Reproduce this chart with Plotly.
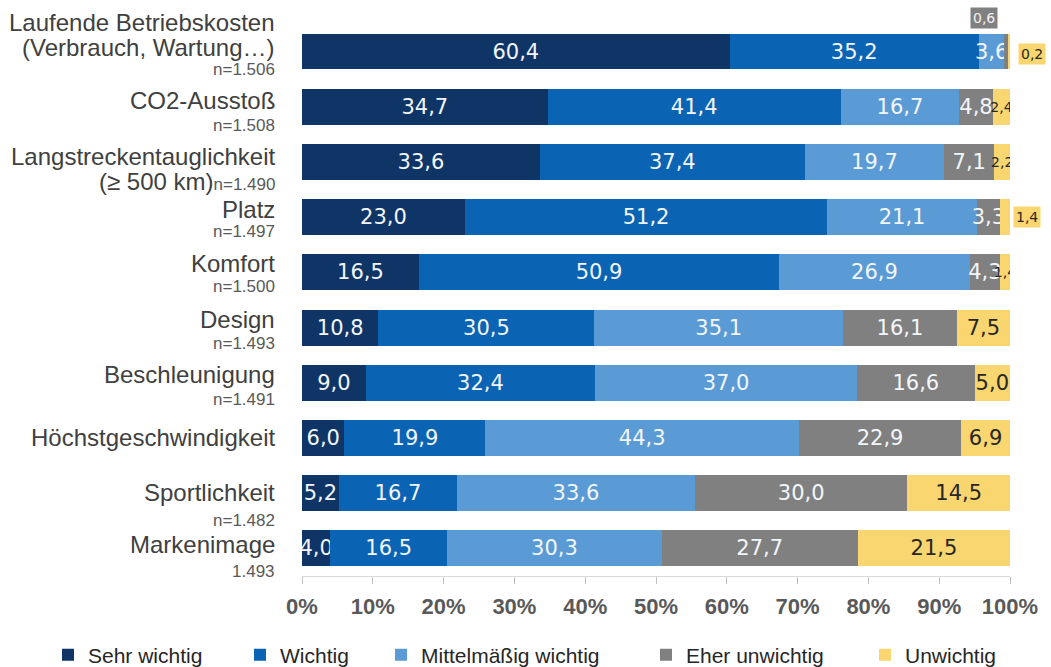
import plotly.graph_objects as go

# ---------------- data ----------------
categories = ["Laufende Betriebskosten", "CO2-Ausstoß", "Langstreckentauglichkeit", "Platz",
              "Komfort", "Design", "Beschleunigung", "Höchstgeschwindigkeit",
              "Sportlichkeit", "Markenimage"]
category_subtitles = ["(Verbrauch, Wartung…)", "", "(≥ 500 km)", "", "", "", "", "", "", ""]
sample_sizes = ["n=1.506", "n=1.508", "n=1.490", "n=1.497", "n=1.500", "n=1.493",
                "n=1.491", "", "n=1.482", "1.493"]

series_names = ["Sehr wichtig", "Wichtig", "Mittelmäßig wichtig", "Eher unwichtig", "Unwichtig"]
sehr_wichtig = [60.4, 34.7, 33.6, 23.0, 16.5, 10.8, 9.0, 6.0, 5.2, 4.0]
wichtig = [35.2, 41.4, 37.4, 51.2, 50.9, 30.5, 32.4, 19.9, 16.7, 16.5]
mittelmaessig = [3.6, 16.7, 19.7, 21.1, 26.9, 35.1, 37.0, 44.3, 33.6, 30.3]
eher_unwichtig = [0.6, 4.8, 7.1, 3.3, 4.3, 16.1, 16.6, 22.9, 30.0, 27.7]
unwichtig = [0.2, 2.4, 2.2, 1.4, 1.4, 7.5, 5.0, 6.9, 14.5, 21.5]
x_ticks = [0, 10, 20, 30, 40, 50, 60, 70, 80, 90, 100]

series_values = [sehr_wichtig, wichtig, mittelmaessig, eher_unwichtig, unwichtig]

# ---------------- styles ----------------
colors = ["#0f3567", "#0a64b3", "#5b9bd5", "#808080", "#f9d66f"]
text_colors = ["#f2f6fb", "#f2f6fb", "#f2f6fb", "#f2f6fb", "#262626"]
# labels drawn as boxed call-outs instead of inside the bar: (category idx, series idx, xshift, yshift)
callouts = [(0, 3, -22, 34), (0, 4, 23, -2), (3, 4, 22, 0)]
# vertical offsets (px, downwards) of label lines: name, subtitle, n
label_offsets = [(-29, -4, 18), (-6, None, 19), (-5, 20, None), (-8, None, 14), (-9, None, 14),
                 (-8, None, 16), (-8, None, 17), (0, None, None), (-1, None, 27), (-4, None, 23)]
legend_text_x = [90, 282, 423, 688, 907]

LABEL_FONT = "Liberation Sans, Arial, sans-serif"
NUM_FONT = "DejaVu Sans, Arial, sans-serif"


def fmt(v):
    return f"{v:.1f}".replace(".", ",")


callout_set = {(c, s) for c, s, _, _ in callouts}

fig = go.Figure()
for s, (name, vals) in enumerate(zip(series_names, series_values)):
    texts = []
    sizes = []
    for c, v in enumerate(vals):
        texts.append("" if (c, s) in callout_set else fmt(v))
        sizes.append(14 if (s == 4 and v < 3) else 21)
    fig.add_trace(go.Bar(
        y=categories, x=vals, orientation="h", name=name,
        marker=dict(color=colors[s], line=dict(width=0)),
        text=texts, textposition="inside", insidetextanchor="middle",
        constraintext="none", textangle=0,
        textfont=dict(family=NUM_FONT, size=sizes, color=text_colors[s]),
        legend="legend" if s == 0 else f"legend{s + 1}",
        hoverinfo="skip",
    ))

annotations = []
# call-out labels
for c, s, dx, dy in callouts:
    start = sum(series_values[k][c] for k in range(s))
    v = series_values[s][c]
    annotations.append(dict(
        x=start + v / 2, y=categories[c], xref="x", yref="y",
        text=fmt(v), showarrow=False, xshift=dx, yshift=dy,
        bgcolor=colors[s], borderpad=2,
        font=dict(family=NUM_FONT, size=14, color=text_colors[s] if s != 3 else "#f2f2f2"),
    ))

# category labels
for c, cat in enumerate(categories):
    off_name, off_sub, off_n = label_offsets[c]
    n_span = f"<span style='font-size:17px;color:#595959'>{sample_sizes[c]}</span>"
    lines = [(cat, off_name)]
    if category_subtitles[c]:
        sub = category_subtitles[c]
        if off_n is None and sample_sizes[c]:
            sub = sub + n_span
        lines.append((sub, off_sub))
    if off_n is not None and sample_sizes[c]:
        lines.append((n_span, off_n))
    for txt, off in lines:
        annotations.append(dict(
            x=0, y=cat, xref="paper", yref="y", xanchor="right", yanchor="middle",
            text=txt, showarrow=False, xshift=-25, yshift=-off,
            font=dict(family=LABEL_FONT, size=24, color="#404040"),
        ))

legend_common = dict(
    orientation="h", xref="container", yref="container", xanchor="left", yanchor="middle",
    y=1 - 655 / 667, font=dict(family=LABEL_FONT, size=21, color="#262626"),
    bgcolor="rgba(0,0,0,0)", itemwidth=30, tracegroupgap=0,
)
legends = {}
for s, tx in enumerate(legend_text_x):
    key = "legend" if s == 0 else f"legend{s + 1}"
    legends[key] = dict(legend_common, x=(tx - 42) / 1051)

fig.update_layout(
    width=1051, height=667,
    margin=dict(l=302, r=41, t=22, b=91, autoexpand=False),
    barmode="stack", bargap=0.35,
    paper_bgcolor="white", plot_bgcolor="white",
    xaxis=dict(range=[0, 100], tickvals=x_ticks, ticktext=[f"{t}%" for t in x_ticks],
               showgrid=False, zeroline=False, showline=True, linecolor="#d9d9d9",
               ticks="outside", ticklen=7, tickcolor="#bfbfbf",
               tickfont=dict(family=LABEL_FONT, size=22, color="#595959", weight="bold"),
               ticklabelstandoff=4, automargin=False),
    yaxis=dict(categoryorder="array", categoryarray=categories, autorange="reversed",
               showticklabels=False, showgrid=False, zeroline=False, showline=False,
               automargin=False),
    annotations=annotations,
    showlegend=True,
    **legends,
)

fig.write_html("out.html", config={"displayModeBar": False},
               post_script="document.body.style.margin='0';document.body.style.overflow='hidden';")
